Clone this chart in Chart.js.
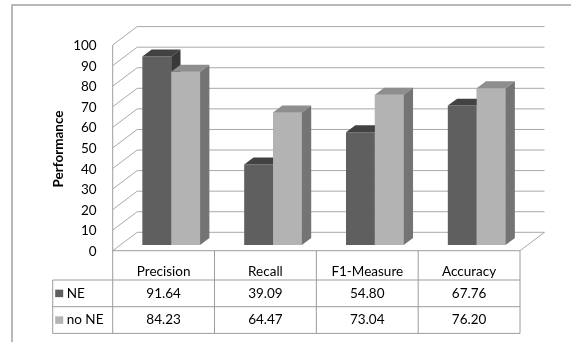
<!DOCTYPE html>
<html>
<head>
<meta charset="utf-8">
<script src="https://cdn.jsdelivr.net/npm/chart.js@4.4.1/dist/chart.umd.min.js"></script>
<style>
  html, body { margin: 0; padding: 0; background: #ffffff; }
  canvas { display: block; }
</style>
</head>
<body>
<canvas id="c" width="571" height="342"></canvas>
<script>
// ---- data ----
const categories = ['Precision', 'Recall', 'F1-Measure', 'Accuracy'];
const seriesNames = ['NE', 'no NE'];
const neValues = [91.64, 39.09, 54.80, 67.76];
const noNeValues = [84.23, 64.47, 73.04, 76.20];
const yMin = 0, yMax = 100, yStep = 10;
const axisTitle = 'Performance';

// ---- styling ----
const FONT = 'Lato, "Open Sans", sans-serif';
const TEXT = '#000000';
const GRID = '#a9a9a9';
const TABLE_LINE = '#9c9c9c';
const faces = [
  { front: '#5f5f5f', top: '#424242', side: '#393939' },
  { front: '#b3b3b3', top: '#8e8e8e', side: '#747474' }
];
// floor depth and where the bars sit inside it
const DEPTH = { dx: 24.5, dy: 18.4 };
const FRONT_FRAC = 0.31;   // part of the depth in front of the bars
const BAR_FRAC = 0.38;     // thickness of a bar along the depth
const front = { dx: -DEPTH.dx * FRONT_FRAC, dy: DEPTH.dy * FRONT_FRAC };
const back = { dx: DEPTH.dx * (1 - FRONT_FRAC), dy: -DEPTH.dy * (1 - FRONT_FRAC) };
const barDepth = { dx: DEPTH.dx * BAR_FRAC, dy: -DEPTH.dy * BAR_FRAC };
// data table rows below the plot
const TABLE = { left: 52.7, headerBottom: 280, rowHeight: 26.7 };

function line(ctx, x1, y1, x2, y2) {
  ctx.beginPath(); ctx.moveTo(x1, y1); ctx.lineTo(x2, y2); ctx.stroke();
}
function poly(ctx, pts, color) {
  ctx.beginPath();
  ctx.moveTo(pts[0][0], pts[0][1]);
  for (let i = 1; i < pts.length; i++) ctx.lineTo(pts[i][0], pts[i][1]);
  ctx.closePath();
  ctx.fillStyle = color;
  ctx.fill();
}

// walls, gridlines and floor of the 3D box
const wallsPlugin = {
  id: 'walls',
  beforeDatasetsDraw(chart) {
    const { ctx, chartArea: a, scales: { y } } = chart;
    const fx = a.left + front.dx, bx = a.left + back.dx;
    const frx = a.right + front.dx, brx = a.right + back.dx;
    const tableBottom = TABLE.headerBottom + TABLE.rowHeight * seriesNames.length;
    ctx.save();
    ctx.strokeStyle = GRID;
    ctx.lineWidth = 1;
    y.ticks.forEach(t => {
      const p = y.getPixelForValue(t.value);
      const yf = p + front.dy, yb = p + back.dy;
      line(ctx, fx, yf, bx, yb);
      line(ctx, bx, yb, brx, yb);
    });
    const f0 = y.getPixelForValue(yMin) + front.dy;
    const b0 = y.getPixelForValue(yMin) + back.dy;
    const fTop = y.getPixelForValue(yMax) + front.dy;
    line(ctx, frx, f0, brx, b0);
    ctx.strokeStyle = TABLE_LINE;
    line(ctx, fx, f0, frx, f0);
    line(ctx, fx, fTop, fx, tableBottom);
    ctx.restore();
  },
  // tops and right sides of the bars
  afterDatasetsDraw(chart) {
    const { ctx } = chart;
    const metas = [chart.getDatasetMeta(0), chart.getDatasetMeta(1)];
    ctx.save();
    categories.forEach((c, i) => {
      metas.forEach((m, d) => {
        const el = m.data[i];
        const p = el.getProps(['x', 'y', 'base', 'width'], true);
        const l = p.x - p.width / 2, r = p.x + p.width / 2;
        const top = p.y, base = p.base;
        if (d > 0) {
          ctx.fillStyle = faces[d].front;
          ctx.fillRect(l, top, r - l, base - top);
        }
        poly(ctx, [[l, top], [r, top], [r + barDepth.dx, top + barDepth.dy], [l + barDepth.dx, top + barDepth.dy]], faces[d].top);
        poly(ctx, [[r, top], [r + barDepth.dx, top + barDepth.dy], [r + barDepth.dx, base + barDepth.dy], [r, base]], faces[d].side);
      });
    });
    ctx.restore();
  },
  // data table, axis title and outer frame
  afterDraw(chart) {
    const { ctx, chartArea: a, scales: { x, y } } = chart;
    const n = categories.length;
    const colW = (a.right - a.left) / n;
    const f0 = y.getPixelForValue(yMin) + front.dy;
    const frx = a.right + front.dx;
    const rows = [neValues, noNeValues];
    const tableBottom = TABLE.headerBottom + TABLE.rowHeight * rows.length;
    ctx.save();
    ctx.strokeStyle = TABLE_LINE;
    ctx.lineWidth = 1;
    // column lines
    for (let i = 0; i < n; i++) {
      const right = x.getPixelForValue(i) + front.dx + colW / 2;
      line(ctx, right, f0, right, tableBottom);
    }
    line(ctx, TABLE.left, TABLE.headerBottom, TABLE.left, tableBottom);
    // row lines
    for (let r = 0; r <= rows.length; r++) {
      const ry = TABLE.headerBottom + r * TABLE.rowHeight;
      line(ctx, TABLE.left, ry, frx, ry);
    }
    // header labels
    ctx.fillStyle = TEXT;
    ctx.font = '13.5px ' + FONT;
    ctx.textAlign = 'center';
    ctx.textBaseline = 'middle';
    categories.forEach((c, i) => {
      ctx.fillText(c, x.getPixelForValue(i) + front.dx, TABLE.headerBottom - 8.5);
    });
    // values and legend keys
    rows.forEach((vals, r) => {
      const cy = TABLE.headerBottom + (r + 0.5) * TABLE.rowHeight;
      vals.forEach((v, i) => {
        ctx.textAlign = 'center';
        ctx.fillStyle = TEXT;
        ctx.fillText(v.toFixed(2), x.getPixelForValue(i) + front.dx, cy);
      });
      ctx.fillStyle = faces[r].front;
      ctx.fillRect(TABLE.left + 2.5, cy - 3.7, 8, 7.5);
      ctx.fillStyle = TEXT;
      ctx.textAlign = 'left';
      ctx.fillText(seriesNames[r], TABLE.left + 14, cy);
    });
    // y axis title
    ctx.save();
    ctx.translate(58.3, 149);
    ctx.rotate(-Math.PI / 2);
    ctx.font = 'bold 13.5px ' + FONT;
    ctx.textAlign = 'center';
    ctx.fillText(axisTitle, 0, 0);
    ctx.restore();
    // outer frame
    ctx.strokeStyle = '#a3a3a3';
    ctx.lineWidth = 1.5;
    ctx.beginPath();
    ctx.moveTo(12, chart.height + 2);
    ctx.lineTo(12, 5);
    ctx.lineTo(chart.width + 2, 5);
    ctx.stroke();
    ctx.restore();
  }
};

new Chart(document.getElementById('c'), {
  type: 'bar',
  data: {
    labels: categories,
    datasets: [
      { label: seriesNames[0], data: neValues, backgroundColor: faces[0].front, borderWidth: 0 },
      { label: seriesNames[1], data: noNeValues, backgroundColor: faces[1].front, borderWidth: 0 }
    ]
  },
  options: {
    responsive: false,
    animation: false,
    devicePixelRatio: 1,
    layout: { padding: { left: 0, top: 39.3, right: 43.4, bottom: 97 } },
    plugins: { legend: { display: false }, tooltip: { enabled: false } },
    datasets: { bar: { categoryPercentage: 0.567, barPercentage: 1.0 } },
    scales: {
      x: { display: false },
      y: {
        min: yMin, max: yMax,
        grid: { display: false, drawTicks: false },
        border: { display: false },
        ticks: { stepSize: yStep, padding: 23.6, labelOffset: 6.5, color: TEXT, font: { family: FONT, size: 13.5 } },
        afterFit(scale) { scale.width = 120.3; }
      }
    }
  },
  plugins: [wallsPlugin]
});
</script>
</body>
</html>
